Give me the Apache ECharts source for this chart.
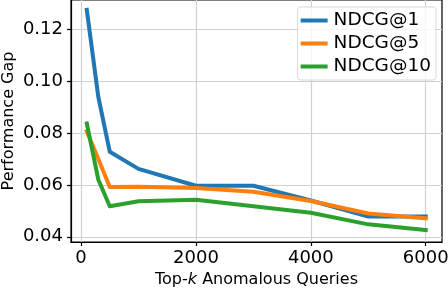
<!DOCTYPE html>
<html><head><meta charset="utf-8">
<script src="https://cdn.jsdelivr.net/npm/echarts@6/dist/echarts.min.js"></script>
<style>html,body{margin:0;padding:0;background:#fff}#c{width:448px;height:288px}</style>
</head><body><div id="c"></div>
<script>
const xValues = [100, 300, 500, 1000, 2000, 3000, 4000, 5000, 6000];
const ndcg1  = [0.1275, 0.0940, 0.0728, 0.0662, 0.0597, 0.0597, 0.0540, 0.0478, 0.0478];
const ndcg5  = [0.0807, 0.0700, 0.0592, 0.0593, 0.0588, 0.0574, 0.0538, 0.0490, 0.0471];
const ndcg10 = [0.0837, 0.0621, 0.0518, 0.0537, 0.0543, 0.0518, 0.0493, 0.0448, 0.0426];
const xTicks = [0, 2000, 4000, 6000];
const yTicks = [0.04, 0.06, 0.08, 0.10, 0.12];
const names = ['NDCG@1', 'NDCG@5', 'NDCG@10'];
const colors = ['#1f77b4', '#ff7f0e', '#2ca02c'];
const font = 'DejaVu Sans';

const chart = echarts.init(document.getElementById('c'), null, {renderer: 'canvas'});
const mk = (vals) => xValues.map((x, i) => [x, vals[i]]);
const gridLine = {show: true, lineStyle: {color: '#d0d0d0', width: 1.2}};
chart.setOption({
  animation: false,
  grid: {left: 71, right: 6, top: 0, bottom: 46, show: true, borderColor: '#000', borderWidth: 1.2, backgroundColor: 'transparent', containLabel: false, outerBoundsMode: 'none'},
  legend: {
    data: names, orient: 'vertical', right: 12, top: 7,
    icon: 'rect', itemWidth: 27, itemHeight: 4, itemGap: 4,
    padding: [4, 5, 4, 3],
    borderColor: '#d8d8d8', borderWidth: 1, borderRadius: 3, backgroundColor: 'rgba(255,255,255,0.8)',
    textStyle: {fontFamily: font, fontSize: 18.5, color: '#000', padding: [0, 0, 0, 1]}
  },
  xAxis: {
    type: 'value', min: -175, max: 6283,
    name: 'Top-{i|k} Anomalous Queries', nameLocation: 'middle', nameGap: 30, nameMoveOverlap: false,
    nameTextStyle: {fontFamily: font, fontSize: 16, color: '#000', rich: {i: {fontFamily: font, fontSize: 16, fontStyle: 'italic', color: '#000'}}},
    axisLine: {show: true, onZero: false, lineStyle: {color: '#000', width: 1.2}},
    axisTick: {show: true, customValues: xTicks, length: 4, lineStyle: {color: '#000', width: 1.2}},
    axisLabel: {customValues: xTicks, fontFamily: font, fontSize: 18, color: '#000', margin: 7, formatter: v => String(v)},
    splitLine: gridLine
  },
  yAxis: {
    type: 'value', min: 0.038, max: 0.1313,
    name: 'Performance Gap', nameLocation: 'middle', nameGap: 54, nameMoveOverlap: false,
    nameTextStyle: {fontFamily: font, fontSize: 16, color: '#000'},
    axisLine: {show: true, onZero: false, lineStyle: {color: '#000', width: 1.2}},
    axisTick: {show: true, customValues: yTicks, length: 4, lineStyle: {color: '#000', width: 1.2}},
    axisLabel: {customValues: yTicks, fontFamily: font, fontSize: 18, color: '#000', margin: 8, formatter: v => v.toFixed(2)},
    splitLine: gridLine
  },
  series: names.map((n, i) => ({
    name: n, type: 'line', data: mk([ndcg1, ndcg5, ndcg10][i]),
    showSymbol: false, symbol: 'none', color: colors[i],
    lineStyle: {width: 4, color: colors[i], join: 'round', cap: 'square'},
    itemStyle: {color: colors[i]}, z: 2 + i
  }))
});
</script></body></html>
